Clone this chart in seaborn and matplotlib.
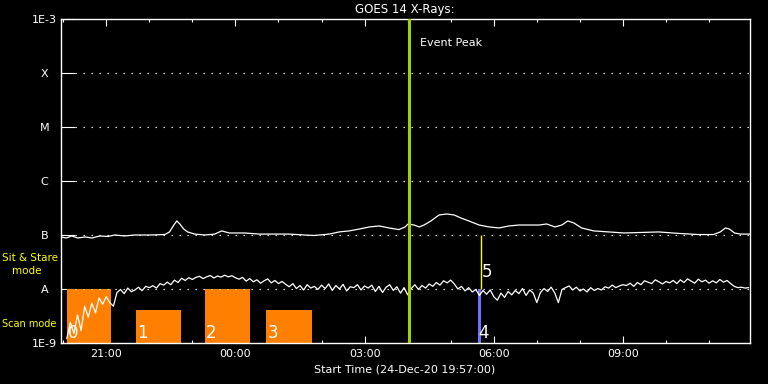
import numpy as np
import pandas as pd
import matplotlib
matplotlib.use("Agg")
import matplotlib.pyplot as plt
import seaborn as sns

# --- data (times in hours after 00:00 on 24-Dec-20) ---
long_t = [19.95, 20.07, 20.20, 20.34, 20.51, 20.67, 20.85, 21.04, 21.20, 21.43,
          21.66, 22.01, 22.36, 22.47, 22.57, 22.64, 22.71, 22.80, 22.89, 23.05,
          23.29, 23.52, 23.68, 23.86, 24.21, 24.56, 24.91, 25.25, 25.60, 25.83,
          26.18, 26.41, 26.64, 26.88, 27.11, 27.34, 27.57, 27.80, 27.94, 28.01,
          28.15, 28.27, 28.38, 28.54, 28.73, 28.91, 29.08, 29.24, 29.42, 29.66,
          29.89, 30.12, 30.35, 30.58, 30.81, 31.05, 31.23, 31.42, 31.58, 31.72,
          31.86, 32.04, 32.32, 32.67, 33.02, 33.36, 33.83, 34.29, 34.75, 35.10,
          35.26, 35.38, 35.47, 35.59, 35.73, 35.95]
long_flux = [9.2e-8, 8.8e-8, 9.6e-8, 8.8e-8, 9.2e-8, 8.8e-8, 9.6e-8, 9.4e-8, 1.0e-7, 9.6e-8,
             1.0e-7, 1.0e-7, 1.02e-7, 1.14e-7, 1.53e-7, 1.82e-7, 1.6e-7, 1.29e-7, 1.14e-7, 1.04e-7,
             1.0e-7, 1.04e-7, 1.19e-7, 1.09e-7, 1.09e-7, 1.04e-7, 1.04e-7, 1.04e-7, 1.0e-7, 9.8e-8,
             1.04e-7, 1.14e-7, 1.19e-7, 1.29e-7, 1.41e-7, 1.47e-7, 1.35e-7, 1.26e-7, 1.41e-7, 1.6e-7,
             1.53e-7, 1.41e-7, 1.53e-7, 1.82e-7, 2.35e-7, 2.45e-7, 2.35e-7, 2.06e-7, 1.82e-7, 1.53e-7,
             1.41e-7, 1.35e-7, 1.47e-7, 1.53e-7, 1.53e-7, 1.53e-7, 1.6e-7, 1.41e-7, 1.53e-7, 1.82e-7,
             1.67e-7, 1.35e-7, 1.19e-7, 1.14e-7, 1.09e-7, 1.11e-7, 1.14e-7, 1.07e-7, 1.02e-7, 1.02e-7,
             1.14e-7, 1.35e-7, 1.29e-7, 1.09e-7, 1.04e-7, 1.04e-7]

# short channel, 5-minute samples from 20:05, in units of 1e-9 W/m^2
short_vals = [
    1.2, 2.4, 1.5, 3.3, 1.7, 4.8, 3.0, 5.5, 3.6, 6.8, 5.2, 7.2,
    5.6, 4.8, 8.6, 9.8, 8.2, 10.4, 8.9, 9.6, 10.8, 9.3, 11.2, 10.6,
    11.5, 10.4, 12.6, 11.8, 13.4, 12.0, 14.6, 13.2, 15.8, 14.4, 16.2, 15.0,
    16.4, 17.2, 15.6, 16.8, 17.8, 16.0, 17.4, 16.6, 18.0, 16.8, 17.6, 16.2,
    15.2, 16.4, 14.0, 15.6, 13.6, 14.8, 12.8, 14.2, 15.4, 13.0, 14.4, 12.6,
    13.8, 12.2, 11.0, 12.6, 10.2, 11.6, 9.6, 12.0, 10.4, 11.2, 9.8, 11.8,
    10.2, 12.4, 9.4, 11.6, 10.0, 12.2, 9.2, 11.0, 10.6, 12.0, 9.6, 11.4,
    10.4, 11.8, 9.0, 11.2, 8.6, 10.8, 12.0, 9.4, 11.0, 8.4, 10.6, 7.8,
    10.2, 12.0, 9.8, 11.6, 10.4, 12.4, 11.2, 13.2, 11.8, 14.2, 13.0, 14.6,
    12.4, 10.0, 11.2, 9.2, 10.6, 8.8, 9.8, 7.6, 9.4, 8.0, 9.6, 7.2,
    6.2, 8.4, 7.0, 9.0, 7.8, 9.4, 8.2, 10.2, 7.6, 9.6, 8.4, 5.6,
    8.6, 10.2, 9.0, 10.8, 8.4, 5.6, 9.8, 10.6, 11.4, 9.6, 10.8, 9.2,
    10.0, 8.8, 10.6, 9.4, 10.2, 9.6, 11.0, 10.4, 11.8, 10.6, 11.4, 12.0,
    11.6, 12.8, 11.2, 13.2, 12.0, 14.2, 13.4, 12.6, 14.8, 13.6, 12.4, 13.8,
    13.0, 14.4, 12.6, 14.8, 13.2, 15.4, 14.0, 12.8, 15.2, 13.6, 14.6, 12.8,
    14.2, 13.0, 15.0, 13.4, 14.4, 12.6, 11.2, 10.6, 10.8, 10.4, 10.6]
short_t0 = 20 + 5 / 60

# scan mode rasters (orange) and sit & stare (blue)
scan_start = [20.09, 21.69, 23.29, 24.72]
scan_end = [21.11, 22.73, 24.33, 25.79]
scan_top = [1e-8, 4e-9, 1e-8, 4e-9]
scan_labels = ["0", "1", "2", "3"]
stare_start, stare_end, stare_top = 29.63, 29.70, 1e-8
marker_t, marker_lo, marker_hi = 29.70, 1e-8, 1e-7
peak_t = 28.03

levels = [1e-9, 1e-8, 1e-7, 1e-6, 1e-5, 1e-4, 1e-3]
level_labels = ["1E-9", "A", "B", "C", "M", "X", "1E-3"]

sns.set_style("ticks")
plt.rcParams.update({
    "figure.facecolor": "black", "axes.facecolor": "black",
    "axes.edgecolor": "white", "text.color": "white",
    "xtick.color": "white", "ytick.color": "white",
})
plt.rcParams["font.family"] = ["DejaVu Sans"]

fig = plt.figure(figsize=(7.68, 3.84), dpi=100)
ax = fig.add_axes([61 / 768, 1 - 343 / 384, 689 / 768, 324 / 384])
ax.set_yscale("log")

short_df = pd.DataFrame({"t": short_t0 + np.arange(len(short_vals)) * 5 / 60,
                         "flux": np.array(short_vals) * 1e-9})
long_df = pd.DataFrame({"t": long_t, "flux": long_flux})

# bars
ax.bar(scan_start, np.array(scan_top) - 1e-9, width=np.array(scan_end) - np.array(scan_start),
       bottom=1e-9, align="edge", color="#ff8000", linewidth=0, zorder=1)
ax.bar([stare_start], [stare_top - 1e-9], width=stare_end - stare_start,
       bottom=1e-9, align="edge", color="#7070ff", linewidth=0, zorder=1)
ax.vlines(marker_t, marker_lo, marker_hi, color="yellow", lw=1, zorder=2)

for lv in levels[1:-1]:
    ax.axhline(lv, xmin=0.02, xmax=1, color="white", lw=0.8, ls=(0, (1.2, 6)), zorder=2)

sns.lineplot(data=long_df, x="t", y="flux", ax=ax, color="white", lw=0.9,
             estimator=None, zorder=3)
sns.lineplot(data=short_df, x="t", y="flux", ax=ax, color="white", lw=0.9,
             estimator=None, zorder=3)

ax.axvline(peak_t, color="#a0d000", lw=2.2, zorder=4)
ax.text(peak_t + 0.26, 3.6e-4, "Event Peak", color="white", fontsize=8, va="center")

for s, lab in zip(scan_start, scan_labels):
    ax.text(s + 0.02, 1.05e-9, lab, color="white", fontsize=12, va="bottom", ha="left")
ax.text(stare_start + 0.02, 1.05e-9, "4", color="white", fontsize=12, va="bottom", ha="left")
ax.text(marker_t + 0.01, 2.05e-8, "5", color="white", fontsize=12, va="center", ha="left")

ax.set_xlim(19.95, 35.95)
ax.set_ylim(1e-9, 1e-3)
ax.set_yticks(levels)
ax.set_yticklabels(level_labels)
ax.yaxis.set_minor_locator(matplotlib.ticker.NullLocator())
for lab in ax.get_yticklabels():
    lab.set_horizontalalignment("center")
ax.tick_params(axis="y", which="major", direction="in", length=10, width=0.8,
               pad=12, labelsize=8, right=False)

major_h = [21, 24, 27, 30, 33]
ax.set_xticks(major_h)
ax.set_xticklabels(["%02d:00" % (h % 24) for h in major_h])
ax.set_xticks(np.arange(20, 36), minor=True)
ax.tick_params(axis="x", which="major", direction="in", length=5, width=0.8,
               pad=4, labelsize=8, top=True)
ax.tick_params(axis="x", which="minor", direction="in", length=2.5, width=0.8, top=True)
ax.set_xlabel("")
ax.set_ylabel("")
for sp in ax.spines.values():
    sp.set_color("white")
    sp.set_linewidth(1)

fig.text(405 / 768, 1 - 10 / 384, "GOES 14 X-Rays:", ha="center", va="center", fontsize=8.5)
fig.text(405 / 768, 1 - 370 / 384, "Start Time (24-Dec-20 19:57:00)", ha="center",
         va="center", fontsize=8)
fig.text(2 / 768, 1 - 258 / 384, "Sit & Stare", color="yellow", fontsize=7.5, va="center")
fig.text(12 / 768, 1 - 271 / 384, "mode", color="yellow", fontsize=7.5, va="center")
fig.text(2 / 768, 1 - 324 / 384, "Scan mode", color="yellow", fontsize=7, va="center")

fig.savefig("out.png", dpi=100, facecolor="black")
